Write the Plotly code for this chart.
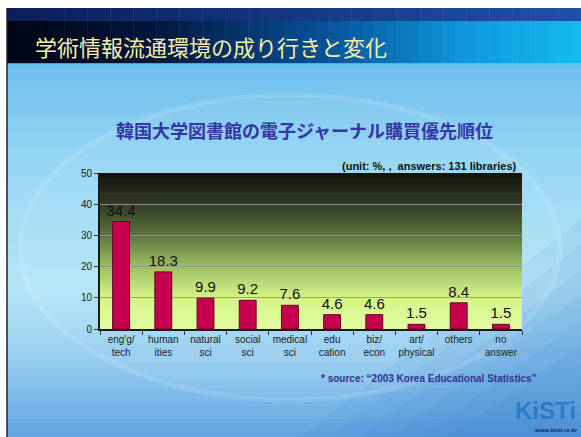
import plotly.graph_objects as go

categories = ["eng'g/<br>tech", "human<br>ities", "natural<br>sci", "social<br>sci", "medical<br>sci",
              "edu<br>cation", "biz/<br>econ", "art/<br>physical", "others", "no<br>answer"]
values = [34.4, 18.3, 9.9, 9.2, 7.6, 4.6, 4.6, 1.5, 8.4, 1.5]
y_ticks = [0, 10, 20, 30, 40, 50]

W, H = 581, 437
L, R, T, B = 100, 59, 173, 108
PW, PH = W - L - R, H - T - B


def px(x):
    return (x - L) / PW


def py(y):
    return (H - B - y) / PH


def lerp(stops, t):
    for i in range(len(stops) - 1):
        t0, c0 = stops[i]
        t1, c1 = stops[i + 1]
        if t0 <= t <= t1:
            f = (t - t0) / (t1 - t0) if t1 > t0 else 0
            c = [round(c0[k] + (c1[k] - c0[k]) * f) for k in range(3)]
            return "rgb(%d,%d,%d)" % tuple(c)
    c = stops[-1][1]
    return "rgb(%d,%d,%d)" % tuple(c)


shapes = []

# slide background (vertical gradient)
bg_stops = [(0.0, (110, 190, 236)), (0.25, (150, 214, 244)), (0.6, (180, 229, 246)),
            (0.8, (150, 205, 240)), (1.0, (100, 165, 225))]
y0, y1 = 64, 437
n = 60
for i in range(n):
    a = y0 + (y1 - y0) * i / n
    b = y0 + (y1 - y0) * (i + 1) / n
    shapes.append(dict(type="rect", xref="paper", yref="paper", x0=px(7), x1=px(581),
                       y0=py(b + 0.5), y1=py(a), fillcolor=lerp(bg_stops, i / (n - 1)),
                       line_width=0, layer="below"))
# bottom-right darker tint, softened by layering
for j in range(6):
    sx = 300 + j * 30
    sy = 220 + j * 25
    shapes.append(dict(type="path", xref="paper", yref="paper",
                       path="M %f %f L %f %f L %f %f Z" % (px(sx), py(437), px(581), py(sy), px(581), py(437)),
                       fillcolor="rgba(40,110,200,0.07)", line_width=0, layer="below"))
# faint swoosh
shapes.append(dict(type="circle", xref="paper", yref="paper", x0=px(20), x1=px(560), y0=py(400), y1=py(95),
                   fillcolor="rgba(255,255,255,0.04)", line=dict(color="rgba(255,255,255,0.12)", width=5),
                   layer="below"))

# top dark strip + title band
strip_stops = [(0.0, (12, 30, 90)), (1.0, (30, 80, 170))]
title_stops = [(0.0, (0, 6, 22)), (0.25, (2, 22, 60)), (0.55, (8, 80, 150)), (0.8, (14, 150, 220)), (1.0, (20, 185, 240))]
m = 50
for i in range(m):
    a = 7 + (581 - 7) * i / m
    b = 7 + (581 - 7) * (i + 1) / m
    shapes.append(dict(type="rect", xref="paper", yref="paper", x0=px(a), x1=px(b + 0.5),
                       y0=py(21), y1=py(8), fillcolor=lerp(strip_stops, i / (m - 1)),
                       line_width=0, layer="below"))
    shapes.append(dict(type="rect", xref="paper", yref="paper", x0=px(a), x1=px(b + 0.5),
                       y0=py(64), y1=py(21), fillcolor=lerp(title_stops, i / (m - 1)),
                       line_width=0, layer="below"))
shapes.append(dict(type="rect", xref="paper", yref="paper", x0=px(7), x1=px(581), y0=py(66), y1=py(63),
                   fillcolor="rgba(90,200,240,0.8)", line_width=0, layer="below"))
# slide left edge line
shapes.append(dict(type="line", xref="paper", yref="paper", x0=px(7), x1=px(7), y0=py(437), y1=py(8),
                   line=dict(color="#222", width=1.5), layer="below"))

# plot area gradient
plot_stops = [(0.0, (226, 252, 160)), (0.2, (212, 244, 136)), (0.4, (156, 190, 98)),
              (0.6, (92, 116, 62)), (0.8, (50, 58, 36)), (1.0, (18, 18, 12))]
k = 60
for i in range(k):
    a = i / k
    b = (i + 1) / k
    shapes.append(dict(type="rect", xref="paper", yref="paper", x0=0, x1=1,
                       y0=a, y1=min(1, b + 0.004), fillcolor=lerp(plot_stops, (a + b) / 2),
                       line_width=0, layer="below"))

fig = go.Figure()
fig.add_trace(go.Bar(
    x=categories, y=values,
    text=[f"{v:.1f}" for v in values], textposition="outside", constraintext="none",
    textfont=dict(family="Liberation Sans, Arial", size=15, color="#111"),
    marker=dict(color="#c4004f", line=dict(color="#6a0028", width=1)),
    cliponaxis=False, width=0.4,
))

annotations = [
    dict(text="学術情報流通環境の成り行きと変化", x=px(33), y=py(46), xref="paper", yref="paper",
         xanchor="left", yanchor="middle", showarrow=False,
         font=dict(family="Noto Sans CJK JP", size=22, color="#f6eea6")),
    dict(text="<b>韓国大学図書館の電子ジャーナル購買優先順位</b>", x=px(304), y=py(130), xref="paper", yref="paper",
         xanchor="center", yanchor="middle", showarrow=False,
         font=dict(family="Noto Sans CJK JP", size=18, color="#3636a6")),
    dict(text="<b>(unit: %, ,  answers: 131 libraries)</b>", x=px(519), y=py(166), xref="paper", yref="paper",
         xanchor="right", yanchor="middle", showarrow=False,
         font=dict(family="Liberation Sans, Arial", size=11, color="#111")),
    dict(text="<b>* source: “2003 Korea Educational Statistics”</b>", x=px(319), y=py(378), xref="paper",
         yref="paper", xanchor="left", yanchor="middle", showarrow=False,
         font=dict(family="Liberation Sans, Arial", size=10, color="#34348e")),
    dict(text="<b>KiSTi</b>", x=px(545), y=py(410), xref="paper", yref="paper",
         xanchor="center", yanchor="middle", showarrow=False,
         font=dict(family="Liberation Sans, Arial", size=24, color="#2a7cc8")),
    dict(text="<b>www.kisti.re.kr</b>", x=px(556), y=py(430), xref="paper", yref="paper",
         xanchor="center", yanchor="middle", showarrow=False,
         font=dict(family="Liberation Sans, Arial", size=6, color="#1a2a60")),
]

fig.update_layout(
    width=W, height=H,
    margin=dict(l=L, r=R, t=T, b=B, pad=0),
    paper_bgcolor="white", plot_bgcolor="rgba(0,0,0,0)",
    shapes=shapes, annotations=annotations, showlegend=False,
    bargap=0.6,
    font=dict(family="Liberation Sans, Arial", color="#222"),
)
fig.update_xaxes(
    type="category", showline=True, linecolor="#1a1a1a", linewidth=2, tickangle=0,
    ticks="outside", tickson="boundaries", ticklen=4, tickcolor="#333",
    tickfont=dict(size=10, color="#222"), showgrid=False,
)
fig.update_yaxes(
    range=[0, 50], tickvals=y_ticks, showline=True, linecolor="#1a1a1a", linewidth=2,
    ticks="outside", ticklen=4, tickcolor="#333", tickfont=dict(size=10, color="#222"),
    showgrid=True, gridcolor="rgba(150,150,140,0.9)", gridwidth=1, zeroline=False,
)

fig.write_html("out.html")
